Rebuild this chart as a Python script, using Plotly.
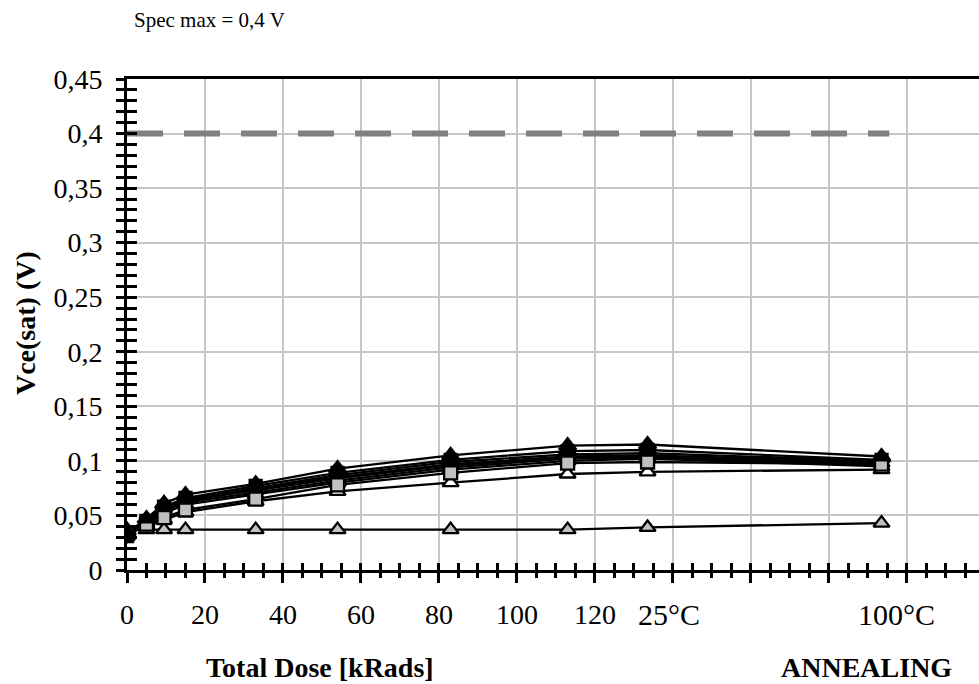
import plotly.graph_objects as go

# ---- data ----
x_pts = [0, 5, 9.5, 15, 33, 54, 83, 113, 133.5, 193.5]

s_black_tri_top = [0.034, 0.047, 0.061, 0.069, 0.079, 0.093, 0.105, 0.114, 0.115, 0.104]
s_black_sq_a    = [0.031, 0.045, 0.058, 0.066, 0.077, 0.089, 0.101, 0.109, 0.110, 0.101]
s_black_dia     = [0.033, 0.044, 0.057, 0.065, 0.075, 0.087, 0.099, 0.106, 0.107, 0.100]
s_black_circ    = [0.032, 0.043, 0.055, 0.063, 0.074, 0.085, 0.097, 0.104, 0.105, 0.099]
s_black_tri_b   = [0.033, 0.044, 0.056, 0.064, 0.073, 0.084, 0.096, 0.103, 0.104, 0.098]
s_black_sq_b    = [0.032, 0.043, 0.054, 0.062, 0.071, 0.082, 0.094, 0.102, 0.103, 0.097]
s_black_tri_c   = [0.031, 0.042, 0.052, 0.060, 0.069, 0.080, 0.092, 0.100, 0.102, 0.095]
s_gray_sq       = [0.034, 0.042, 0.048, 0.055, 0.065, 0.078, 0.089, 0.098, 0.099, 0.097]
s_white_tri     = [0.035, 0.040, 0.046, 0.053, 0.063, 0.072, 0.080, 0.088, 0.090, 0.092]
s_gray_tri_flat = [0.037, 0.037, 0.037, 0.037, 0.037, 0.037, 0.037, 0.037, 0.039, 0.043]

spec_x = [0, 195.5]
spec_y = [0.4, 0.4]

x_tickvals = [0, 20, 40, 60, 80, 100, 120, 140, 160, 180, 200, 220]
x_ticktext = ["0", "20", "40", "60", "80", "100", "120", "", "", "", "", ""]
y_tickvals = [0, 0.05, 0.1, 0.15, 0.2, 0.25, 0.3, 0.35, 0.4, 0.45]
y_ticktext = ["0", "0,05", "0,1", "0,15", "0,2", "0,25", "0,3", "0,35", "0,4", "0,45"]
anneal_labels = ["25°C", "100°C"]
anneal_pos = [139, 197.4]

FONT = "Liberation Serif, Times New Roman, serif"
X_RANGE = [0, 218.5]
Y_RANGE = [0, 0.45]

fig = go.Figure()

fig.add_trace(go.Scatter(x=spec_x, y=spec_y, mode="lines",
                         line=dict(color="#808080", width=6, dash="36px,21px"),
                         showlegend=False, hoverinfo="skip"))

def add_series(vals, symbol, fill, size=12):
    fig.add_trace(go.Scatter(
        x=x_pts, y=vals, mode="lines+markers",
        line=dict(color="black", width=2.3),
        marker=dict(symbol=symbol, size=size, color=fill,
                    line=dict(color="black", width=2.3)),
        showlegend=False))

add_series(s_gray_tri_flat, "triangle-up", "#c0c0c0", 14)
add_series(s_black_tri_c, "triangle-up", "black", 14)
add_series(s_black_sq_b, "square", "black", 12)
add_series(s_black_tri_b, "triangle-up", "black", 14)
add_series(s_black_circ, "circle", "black", 12)
add_series(s_black_dia, "diamond", "black", 13)
add_series(s_black_sq_a, "square", "black", 12)
add_series(s_white_tri, "triangle-up", "white", 14)
add_series(s_gray_sq, "square", "#c0c0c0", 13)
add_series(s_black_tri_top, "triangle-up", "black", 15)

# empty trace to hold the overlay axes (inner half of crossing ticks)
fig.add_trace(go.Scatter(x=[None], y=[None], xaxis="x2", yaxis="y2",
                         showlegend=False, hoverinfo="skip"))

tick_font = dict(family=FONT, size=28, color="black")

fig.update_layout(
    width=979, height=684,
    margin=dict(l=127, r=0, t=79, b=114),
    paper_bgcolor="white", plot_bgcolor="white",
    font=dict(family=FONT, color="black", size=28),
    showlegend=False,
    xaxis=dict(range=X_RANGE, tickmode="array", tickvals=x_tickvals, ticktext=x_ticktext,
               showgrid=True, gridcolor="#c6c6c6", gridwidth=1.5,
               showline=True, linecolor="black", linewidth=3, mirror=True,
               ticks="outside", ticklen=10, tickwidth=3, tickcolor="black",
               minor=dict(dtick=5, tick0=0, ticks="outside", ticklen=5,
                          tickwidth=3, tickcolor="black", showgrid=False),
               zeroline=False, ticklabelstandoff=7,
               tickfont=tick_font),
    yaxis=dict(range=Y_RANGE, tickmode="array", tickvals=y_tickvals, ticktext=y_ticktext,
               showgrid=True, gridcolor="#c6c6c6", gridwidth=1.5,
               showline=True, linecolor="black", linewidth=3,
               ticks="outside", ticklen=8, tickwidth=3, tickcolor="black",
               minor=dict(dtick=0.01, tick0=0, ticks="outside", ticklen=8,
                          tickwidth=3, tickcolor="black", showgrid=False),
               zeroline=False, ticklabelstandoff=8,
               tickfont=tick_font),
    xaxis2=dict(range=X_RANGE, overlaying="x", anchor="y", side="bottom",
                dtick=5, tick0=0, ticks="inside", ticklen=7, tickwidth=3,
                tickcolor="black", showticklabels=False, showgrid=False,
                showline=False, zeroline=False),
    yaxis2=dict(range=Y_RANGE, overlaying="y", anchor="x", side="left",
                dtick=0.01, tick0=0, ticks="inside", ticklen=10, tickwidth=3,
                tickcolor="black", showticklabels=False, showgrid=False,
                showline=False, zeroline=False),
)

for lab, pos in zip(anneal_labels, anneal_pos):
    fig.add_annotation(x=pos, xref="x", y=-0.09, yref="paper", text=lab,
                       showarrow=False, xanchor="center", yanchor="middle",
                       font=dict(family=FONT, size=30, color="black"))

fig.add_annotation(x=0.2265, xref="paper", y=-0.1976, yref="paper",
                   text="<b>Total Dose [kRads]</b>", showarrow=False,
                   xanchor="center", yanchor="middle",
                   font=dict(family=FONT, size=28, color="black"))
fig.add_annotation(x=0.8685, xref="paper", y=-0.1976, yref="paper",
                   text="<b>ANNEALING</b>", showarrow=False,
                   xanchor="center", yanchor="middle",
                   font=dict(family=FONT, size=28, color="black"))
fig.add_annotation(x=-0.1197, xref="paper", y=0.503, yref="paper",
                   text="<b>Vce(sat) (V)</b>", showarrow=False, textangle=-90,
                   xanchor="center", yanchor="middle",
                   font=dict(family=FONT, size=28, color="black"))
fig.add_annotation(x=0.0974, xref="paper", y=1.12, yref="paper",
                   text="Spec max = 0,4 V", showarrow=False,
                   xanchor="center", yanchor="middle",
                   font=dict(family=FONT, size=21, color="black"))

fig.write_html("out.html")
